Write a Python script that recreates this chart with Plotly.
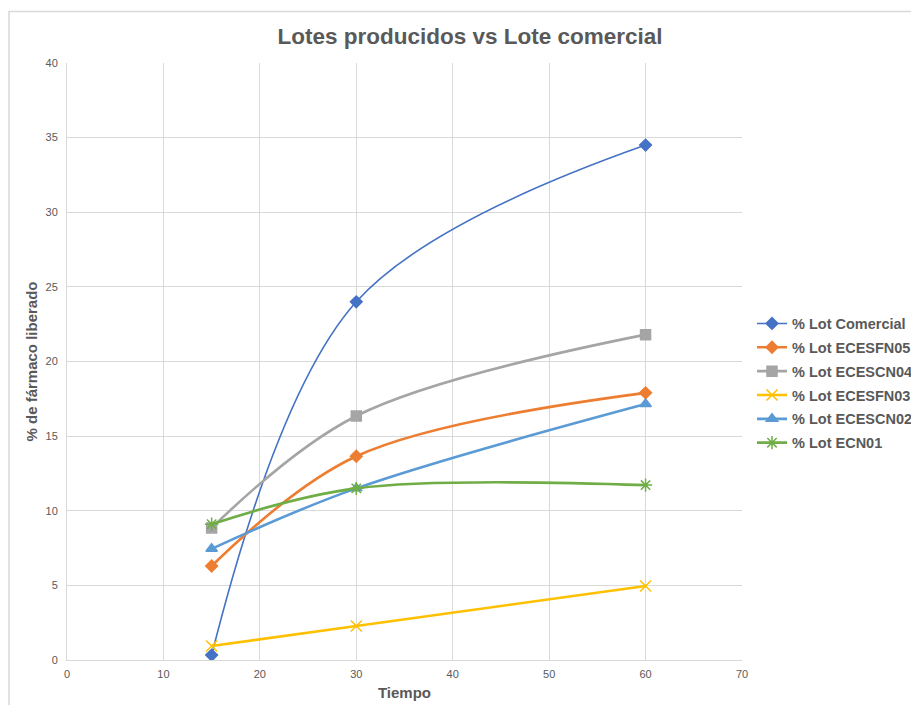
import plotly.graph_objects as go

tiempo = [15, 30, 60]
series_names = ["% Lot Comercial", "% Lot ECESFN05", "% Lot ECESCN04",
                "% Lot ECESFN03", "% Lot ECESCN02", "% Lot ECN01"]
lot_comercial = [0.33, 24.0, 34.5]
lot_ecesfn05 = [6.3, 13.65, 17.9]
lot_ecescn04 = [8.85, 16.35, 21.8]
lot_ecesfn03 = [0.94, 2.28, 4.96]
lot_ecescn02 = [7.45, 11.5, 17.15]
lot_ecn01 = [9.1, 11.5, 11.72]

values = [lot_comercial, lot_ecesfn05, lot_ecescn04, lot_ecesfn03, lot_ecescn02, lot_ecn01]
colors = ["#4472C4", "#ED7D31", "#A5A5A5", "#FFC000", "#5B9BD5", "#70AD47"]
symbols = ["diamond", "diamond", "square", "x-thin-open", "triangle-up", "asterisk-open"]
msizes = [9, 9, 10, 11, 10, 11]
lwidths = [1.6, 2.6, 2.6, 2.6, 2.6, 2.6]

fig = go.Figure()
for i, (name, v, c, s, ms, lw) in enumerate(zip(series_names, values, colors, symbols, msizes, lwidths)):
    fig.add_trace(go.Scatter(
        x=tiempo, y=v, name=name, mode="lines+markers", legendgroup=f"g{i}",
        line=dict(color=c, width=lw, shape="spline", smoothing=1.0),
        marker=dict(symbol=s, size=ms, color=c, line=dict(color=c, width=1.5)),
    ))

font_family = "Liberation Sans, Arial, sans-serif"
grey = "#595959"

W, H = 903, 697  # page body adds an 8px margin around the figure
fig.update_layout(
    width=W, height=H,
    margin=dict(l=59, r=W - 734, t=55, b=H - 652, autoexpand=False),
    paper_bgcolor="white", plot_bgcolor="white",
    font=dict(family=font_family, color=grey, size=11),
    title=dict(text="<b>Lotes producidos vs Lote comercial</b>",
               x=462 / W, xref="container", xanchor="center",
               y=1 - 28 / H, yref="container", yanchor="middle",
               font=dict(size=22.5, color=grey, family=font_family)),
    showlegend=True,
    legend=dict(x=744 / W, xref="container", xanchor="left",
                y=(660 - 383.5) / 597, yanchor="middle",
                font=dict(size=14.5, color=grey, family=font_family, weight="bold"),
                bgcolor="rgba(0,0,0,0)", itemwidth=30, tracegroupgap=2),
    shapes=[dict(type="rect", xref="paper", yref="paper",
                 x0=(-58) / 675, x1=1.6, y0=-0.3, y1=(660 - 11.5) / 597,
                 line=dict(color="#d9d9d9", width=1.5), layer="below")],
)
fig.update_xaxes(range=[0, 70], dtick=10, tick0=0, showgrid=True, gridcolor="#d9d9d9",
                 gridwidth=1, zeroline=False, showline=True, linecolor="#d9d9d9",
                 ticks="", tickfont=dict(size=11, color=grey), ticklabelstandoff=4,
                 automargin=False,
                 title=dict(text="<b>Tiempo</b>", font=dict(size=15, color=grey), standoff=8))
fig.update_yaxes(range=[0, 40], dtick=5, tick0=0, showgrid=True, gridcolor="#d9d9d9",
                 gridwidth=1, zeroline=False, showline=True, linecolor="#d9d9d9",
                 ticks="", tickfont=dict(size=11, color=grey), ticklabelstandoff=6,
                 automargin=False,
                 title=dict(text="<b>% de fármaco liberado</b>", font=dict(size=15, color=grey), standoff=4))

fig.write_html("out.html")
